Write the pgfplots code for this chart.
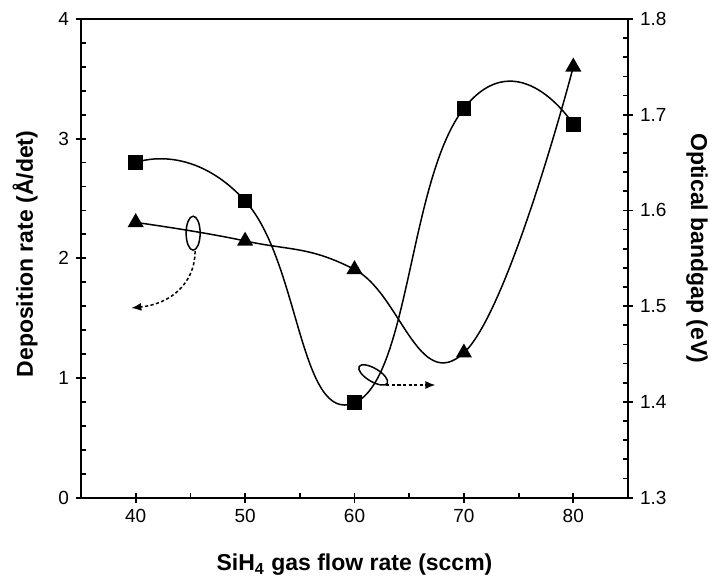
\documentclass[border=0pt]{standalone}
\usepackage{fontspec}
\setmainfont{Liberation Sans}
\usepackage{pgfplots}
\pgfplotsset{compat=1.18}
\usetikzlibrary{arrows.meta}

\begin{document}
\begin{tikzpicture}
\useasboundingbox (-40.5pt,-42.65pt) rectangle (315pt,248.8pt);
\pgfplotsset{
  common/.style={
    at={(0,0)}, anchor=south west,
    scale only axis, width=273.5pt, height=239.3pt,
    xmin=35, xmax=85,
    axis line style={line width=1pt},
    tick style={line width=0.9pt, black},
    tick align=center,
    major tick length=5pt,
    minor tick length=2.5pt,
    tick label style={font=\fontsize{9.5}{11}\selectfont},
    label style={font=\fontsize{11.5}{13}\selectfont\bfseries},
    /pgf/number format/assume math mode=true,
  }
}
% left axis: deposition rate (triangles)
\begin{axis}[common,
  ymin=0, ymax=4,
  xtick={40,50,60,70,80}, minor x tick num=1,
  ytick={0,1,2,3,4}, minor y tick num=4,
  xtick pos=bottom, ytick pos=left,
  minor x tick style={yshift=1.25pt},
  minor y tick style={xshift=1.25pt},
  xlabel={SiH\textsubscript{4} gas flow rate (sccm)},
  ylabel={Deposition rate (Å/det)},
  xlabel style={at={(axis description cs:0.5,0)}, anchor=center, yshift=-33.5pt},
  ylabel style={at={(axis description cs:-0.102,0.509)}, anchor=center},
]
\addplot[black, line width=0.75pt, smooth, tension=0.75, mark=triangle*, mark size=3.9pt,
  mark options={solid}] coordinates {
  (40,2.30) (50,2.145) (60,1.907) (70,1.21) (80,3.60)
};
% annotation: ellipse + dashed arrow to the left axis
\draw[line width=0.75pt] (axis cs:45.25,2.21) ellipse [x radius=3.5pt, y radius=8.5pt];
\draw[dash pattern=on 1.6pt off 1.2pt, line width=0.75pt, -{Latex[length=5pt,width=4pt]}]
  (axis cs:45.43,2.06) .. controls (axis cs:45.43,1.80) and (axis cs:43.3,1.62) .. (axis cs:39.6,1.585);
% annotation: ellipse + dashed arrow to the right axis
\draw[line width=0.75pt, rotate around={-31:(axis cs:61.71,1.025)}]
  (axis cs:61.71,1.025) ellipse [x radius=8.2pt, y radius=3.3pt];
\draw[dash pattern=on 1.6pt off 1.2pt, line width=0.75pt, -{Latex[length=5pt,width=4pt]}]
  (axis cs:62.9,0.941) -- (axis cs:67.4,0.941);
\end{axis}

% right axis: optical bandgap (squares)
\begin{axis}[common,
  hide x axis,
  axis y line*=right,
  ymin=1.3, ymax=1.8,
  ytick={1.3,1.4,1.5,1.6,1.7,1.8}, minor y tick num=4,
  minor y tick style={xshift=-1.25pt},
  yticklabel style={/pgf/number format/.cd, fixed, fixed zerofill, precision=1},
  ylabel={Optical bandgap (eV)},
  ylabel style={at={(axis description cs:1.126,0.521)}, anchor=center, rotate=180},
]
\addplot[black, line width=0.75pt, smooth, tension=0.9, mark=square*, mark size=3.3pt,
  mark options={solid}] coordinates {
  (40,1.650) (50,1.610) (60,1.399) (70,1.7066) (80,1.690)
};
\end{axis}
\end{tikzpicture}
\end{document}
